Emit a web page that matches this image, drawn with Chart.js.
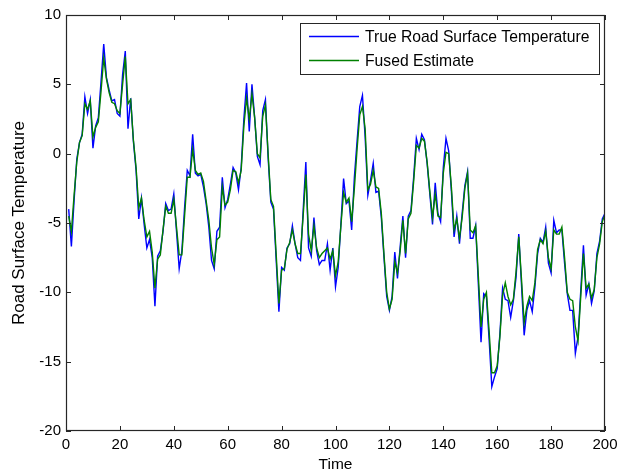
<!DOCTYPE html>
<html>
<head>
<meta charset="utf-8">
<script src="https://cdn.jsdelivr.net/npm/chart.js@4/dist/chart.umd.min.js"></script>
<style>
  html, body { margin: 0; padding: 0; background: #fff; }
  #wrap { width: 632px; height: 475px; }
</style>
</head>
<body>
<div id="wrap"><canvas id="grafico" width="632" height="475"></canvas></div>
<script>
// datos (t = 1..200)
const tiempo = [];
for (let t = 1; t <= 200; t++) tiempo.push(t);

const temperaturaReal = [
  -4.0, -6.7, -3.4, -0.4, 0.8, 1.4, 4.1, 2.9, 3.9, 0.4,
  2.0, 2.6, 5.2, 7.9, 5.5, 4.6, 3.8, 3.9, 2.9, 2.7,
  5.7, 7.4, 1.8, 4.0, 0.9, -1.2, -4.7, -3.2, -5.1, -6.8,
  -6.2, -7.5, -11.0, -7.4, -7.0, -5.6, -3.6, -4.1, -4.0, -2.9,
  -5.6, -8.3, -7.0, -3.9, -1.2, -1.6, 1.4, -1.4, -1.6, -1.5,
  -2.4, -3.6, -5.3, -7.7, -8.3, -5.6, -5.3, -1.7, -3.9, -3.3,
  -2.2, -1.0, -1.4, -2.6, -1.0, 2.5, 5.1, 1.6, 5.0, 2.6,
  -0.2, -0.8, 3.1, 3.9, -0.3, -3.5, -4.0, -7.7, -11.4, -8.2,
  -8.4, -6.8, -6.5, -5.2, -6.5, -7.5, -7.7, -4.1, -0.6, -6.8,
  -7.4, -4.6, -7.0, -8.0, -7.7, -7.7, -6.5, -8.4, -6.8, -9.6,
  -8.2, -5.1, -1.8, -3.6, -3.4, -5.5, -1.7, 0.9, 3.4, 4.2,
  1.2, -3.0, -1.9, -0.7, -2.8, -2.7, -4.6, -7.5, -10.3, -11.3,
  -10.3, -7.1, -9.0, -6.7, -4.5, -7.5, -4.5, -4.1, -1.7, 1.1,
  0.3, 1.4, 1.0, -0.7, -2.9, -5.1, -2.1, -4.3, -4.9, -1.0,
  1.1, 0.2, -2.7, -6.0, -4.5, -6.5, -4.3, -2.3, -1.3, -6.1,
  -6.1, -5.2, -9.4, -13.6, -10.1, -10.3, -13.4, -16.8, -16.1, -15.5,
  -13.0, -9.7, -10.5, -10.6, -11.8, -10.6, -8.9, -5.8, -9.4, -13.1,
  -11.3, -10.6, -11.4, -9.6, -7.2, -6.1, -6.4, -5.3, -7.9, -8.6,
  -4.8, -5.7, -5.5, -5.5, -7.9, -10.1, -11.3, -11.3, -14.4, -13.2,
  -9.9, -6.6, -10.2, -9.4, -10.8, -9.9, -7.2, -6.3, -4.7, -4.3
];

const estimacionFusionada = [
  -4.5, -5.6, -3.0, -0.6, 0.8, 1.3, 3.6, 3.2, 3.8, 1.2,
  1.9, 2.3, 4.5, 6.9, 5.4, 4.4, 3.7, 3.6, 3.1, 2.9,
  5.0, 7.0, 3.6, 3.9, 1.0, -1.0, -3.9, -3.2, -4.8, -6.0,
  -5.6, -7.1, -9.7, -7.6, -7.3, -5.5, -3.8, -4.3, -4.3, -3.3,
  -5.3, -7.3, -7.3, -4.5, -1.7, -1.7, 0.3, -1.2, -1.5, -1.4,
  -2.0, -3.4, -4.8, -6.8, -8.0, -6.2, -6.0, -2.4, -3.7, -3.5,
  -2.6, -1.2, -1.3, -2.1, -1.2, 2.0, 4.0, 2.5, 4.3, 2.6,
  0.0, -0.3, 2.7, 3.5, 0.0, -3.3, -3.8, -7.3, -10.8, -8.4,
  -8.3, -6.9, -6.4, -5.5, -6.5, -7.2, -7.2, -4.5, -1.5, -5.8,
  -7.0, -5.2, -6.8, -7.5, -7.2, -7.0, -6.8, -7.6, -7.0, -8.8,
  -7.8, -5.2, -2.8, -3.5, -3.2, -4.9, -2.5, 0.3, 2.8, 3.4,
  1.8, -2.6, -2.2, -1.2, -2.4, -2.5, -4.3, -7.3, -10.0, -11.2,
  -10.5, -7.8, -8.6, -7.0, -4.8, -7.2, -4.7, -4.3, -2.0, 0.6,
  0.4, 1.1, 0.9, -0.6, -2.7, -4.6, -2.9, -4.5, -4.6, -1.4,
  0.1, 0.0, -2.4, -5.5, -4.7, -6.1, -4.6, -2.5, -1.4, -5.5,
  -5.7, -5.2, -8.8, -12.5, -10.5, -10.0, -12.8, -15.8, -15.8, -15.3,
  -13.2, -10.2, -9.3, -10.3, -10.9, -10.5, -8.5, -6.0, -9.0, -12.2,
  -11.0, -10.3, -10.6, -9.3, -6.9, -6.2, -6.5, -5.6, -7.5, -8.3,
  -5.5, -5.8, -5.8, -5.3, -7.5, -10.0, -10.5, -10.6, -12.5, -13.5,
  -10.3, -7.2, -9.7, -9.4, -10.4, -9.8, -7.5, -6.5, -4.9, -4.4
];

const ticksX = [0, 20, 40, 60, 80, 100, 120, 140, 160, 180, 200];
const ticksY = [-20, -15, -10, -5, 0, 5, 10];

const fuente = "'Liberation Sans', Arial, sans-serif";
const colorEjes = "#262626";

// caja del grafico, marcas hacia dentro y leyenda estilo matlab
const marcoMatlab = {
  id: "marcoMatlab",
  afterDraw(chart) {
    const ctx = chart.ctx;
    const a = chart.chartArea;
    const sx = chart.scales.x;
    const sy = chart.scales.y;
    ctx.save();
    ctx.strokeStyle = colorEjes;
    ctx.lineWidth = 1.2;
    ctx.strokeRect(a.left + 0.5, a.top + 0.5, a.right - a.left - 1, a.bottom - a.top - 1);
    ctx.lineWidth = 1;
    ctx.beginPath();
    ticksX.forEach((v) => {
      const px = Math.round(sx.getPixelForValue(v)) + 0.5;
      ctx.moveTo(px, a.bottom); ctx.lineTo(px, a.bottom - 5);
      ctx.moveTo(px, a.top); ctx.lineTo(px, a.top + 5);
    });
    ticksY.forEach((v) => {
      const py = Math.round(sy.getPixelForValue(v)) + 0.5;
      ctx.moveTo(a.left, py); ctx.lineTo(a.left + 5, py);
      ctx.moveTo(a.right, py); ctx.lineTo(a.right - 5, py);
    });
    ctx.stroke();

    // leyenda
    const lx = 300, ly = 23, lw = 299, lh = 51;
    ctx.fillStyle = "#fff";
    ctx.fillRect(lx, ly, lw, lh);
    ctx.strokeStyle = colorEjes;
    ctx.strokeRect(lx + 0.5, ly + 0.5, lw, lh);
    ctx.font = "15.7px " + fuente;
    ctx.textBaseline = "middle";
    ctx.textAlign = "left";
    const filas = [chart.data.datasets[1], chart.data.datasets[0]];
    filas.forEach((ds, i) => {
      const y = ly + 13 + i * 24 + 0.5;
      ctx.strokeStyle = ds.borderColor;
      ctx.lineWidth = 1.3;
      ctx.beginPath();
      ctx.moveTo(lx + 9, y); ctx.lineTo(lx + 59, y);
      ctx.stroke();
      ctx.fillStyle = "#000";
      ctx.fillText(ds.label, lx + 65, y + 1);
    });
    ctx.restore();
  }
};

const ctx = document.getElementById("grafico").getContext("2d");
const grafico = new Chart(ctx, {
  type: "line",
  data: {
    labels: tiempo,
    datasets: [
      {
        label: "Fused Estimate",
        data: estimacionFusionada,
        borderColor: "#008000",
        borderWidth: 1.4,
        pointRadius: 0,
        tension: 0,
        fill: false,
        order: 0,
      },
      {
        label: "True Road Surface Temperature",
        data: temperaturaReal,
        borderColor: "#0000FF",
        borderWidth: 1.4,
        pointRadius: 0,
        tension: 0,
        fill: false,
        order: 1,
      },
    ],
  },
  options: {
    responsive: false,
    animation: false,
    layout: { padding: { top: 15, right: 27, left: 0, bottom: 0 } },
    plugins: { legend: { display: false }, tooltip: { enabled: false } },
    scales: {
      x: {
        type: "linear",
        min: 0,
        max: 200,
        afterBuildTicks: (s) => { s.ticks = ticksX.map((v) => ({ value: v })); },
        afterFit: (s) => { s.height = 44; },
        grid: { display: false, drawTicks: false },
        border: { display: false },
        ticks: { color: "#000", padding: 5, maxRotation: 0, font: { family: fuente, size: 15 } },
        title: { display: true, text: "Time", color: "#000", padding: { top: 0, bottom: 1 }, font: { family: fuente, size: 15.5 } },
      },
      y: {
        type: "linear",
        min: -20,
        max: 10,
        afterBuildTicks: (s) => { s.ticks = ticksY.map((v) => ({ value: v })); },
        afterFit: (s) => { s.width = 66; },
        grid: { display: false, drawTicks: false },
        border: { display: false },
        ticks: { color: "#000", padding: 5, font: { family: fuente, size: 15 } },
        title: { display: true, text: "Road Surface Temperature", color: "#000", padding: { top: 9, bottom: 0 }, font: { family: fuente, size: 17 } },
      },
    },
  },
  plugins: [marcoMatlab],
});
</script>
</body>
</html>
